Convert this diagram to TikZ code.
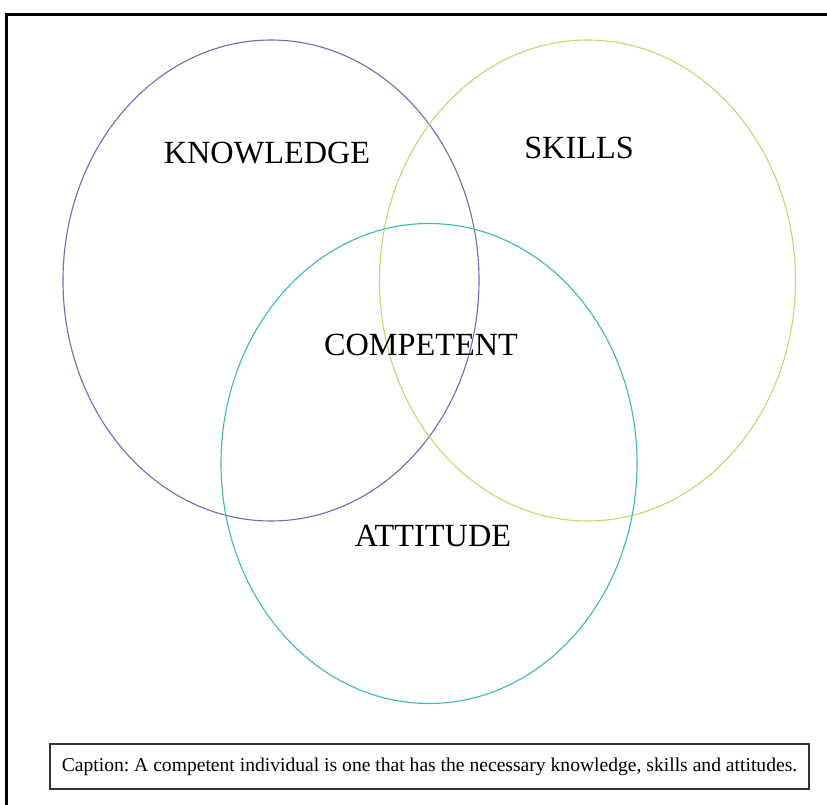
\documentclass[tikz,border=0pt]{standalone}
\usepackage{fontspec}
\setmainfont{Liberation Serif}
\frenchspacing
\definecolor{knowc}{HTML}{7268BC}
\definecolor{skillc}{HTML}{C5D86D}
\definecolor{attc}{HTML}{3FB8B8}
\begin{document}
\begin{tikzpicture}[x=1pt,y=-1pt,
  setlabel/.style={font=\fontsize{32.3}{38}\selectfont, inner sep=0pt, anchor=center},
  setring/.style={line width=1.1pt}]
\useasboundingbox (0,0) rectangle (827,805);
\fill[white] (0,0) rectangle (827,805);
% frame
\coordinate (fbl) at (6.5,805);
\coordinate (ftl) at (6.5,14.5);
\coordinate (ftr) at (827,14.5);
\draw[line width=2.2pt] (fbl) -- (ftl) -- (ftr);
% circles
\draw[setring, knowc] (271,280.5) ellipse [x radius=208pt, y radius=240.5pt];
\draw[setring, skillc] (587.5,280.5) ellipse [x radius=208pt, y radius=240.5pt];
\draw[setring, attc] (429,463.5) ellipse [x radius=208pt, y radius=240pt];
% labels
\node[setlabel] (know) at (267,153) {KNOWLEDGE};
\node[setlabel] (skill) at (579,148) {SKILLS};
\node[setlabel] (comp) at (421,345) {COMPETENT};
\node[setlabel] (att) at (433,536) {ATTITUDE};
% caption
\node[draw=black!80, line width=1.3pt, minimum width=759pt, minimum height=45pt, inner sep=0pt,
  font=\fontsize{19.6}{23}\selectfont] (cap) at (429.5,766.5)
  {Caption: A competent individual is one that has the necessary knowledge, skills and attitudes.};
\end{tikzpicture}
\end{document}
